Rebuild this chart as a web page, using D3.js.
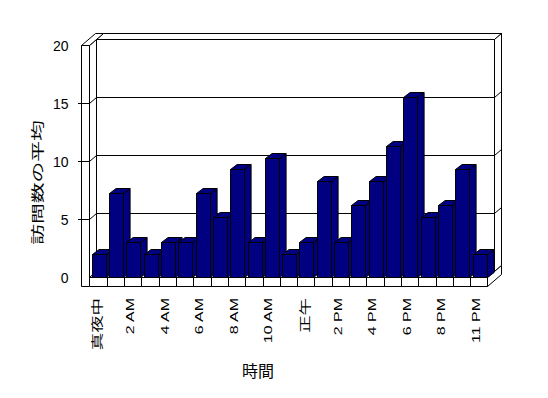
<!DOCTYPE html>
<html>
<head>
<meta charset="utf-8">
<script src="https://cdn.jsdelivr.net/npm/d3@7"></script>
<style>
  body { margin: 0; background: #fff; }
  svg { display: block; }
  text { fill: #000; }
</style>
</head>
<body>
<div id="chart"></div>
<script>
// hours shown on the category axis (only every second one gets a label)
var categories = ['真夜中', '1 AM', '2 AM', '3 AM', '4 AM', '5 AM', '6 AM', '7 AM', '8 AM', '9 AM',
  '10 AM', '11 AM', '正午', '1 PM', '2 PM', '3 PM', '4 PM', '5 PM', '6 PM', '7 PM', '8 PM', '10 PM', '11 PM'];
// average visits per hour
var values = [2, 7.2, 3, 2, 3, 3, 7.2, 5.15, 9.3, 3, 10.3, 2, 3, 8.25, 3, 6.2, 8.25, 11.3, 15.5, 5.15, 6.2, 9.3, 2];
var yTicks = [0, 5, 10, 15, 20];
var yTitle = '訪問数の平均';
var xTitle = '時間';

var width = 548, height = 398;
var X0 = 89.5, X1 = 487.5;       // front edge of floor
var D = { x: 7, y: -6 };         // depth of plot / wall thickness
var B = { x: 6.6, y: -5 };       // depth of one bar
var wallW = 8, floorH = 9;
var navy = '#000080';

var x = d3.scaleBand().domain(categories).range([X0, X1]);
var y = d3.scaleLinear().domain([0, 20]).range([277.5, 45.5]);

var svg = d3.select('#chart').append('svg')
  .attr('width', width).attr('height', height);

function poly(g, pts, fill) {
  return g.append('polygon')
    .attr('points', pts.map(function(p) { return p[0] + ',' + p[1]; }).join(' '))
    .attr('fill', fill || '#fff')
    .attr('stroke', '#000')
    .attr('stroke-width', 1)
    .attr('stroke-linejoin', 'round');
}

function line(g, x1, y1, x2, y2) {
  g.append('line')
    .attr('x1', x1).attr('y1', y1).attr('x2', x2).attr('y2', y2)
    .attr('stroke', '#000').attr('stroke-width', 1);
}

var walls = svg.append('g');
var yTop = y(20), yBot = y(0);

// back wall: top face, right side face, inner face
poly(walls, [[X0 + D.x, yTop + D.y], [X1 + D.x, yTop + D.y], [X1 + 2 * D.x, yTop + 2 * D.y], [X0 + 2 * D.x, yTop + 2 * D.y]]);
poly(walls, [[X1 + D.x, yTop + D.y], [X1 + 2 * D.x, yTop + 2 * D.y], [X1 + 2 * D.x, yBot + 2 * D.y], [X1 + D.x, yBot + D.y]]);
poly(walls, [[X0 + D.x, yTop + D.y], [X1 + D.x, yTop + D.y], [X1 + D.x, yBot + D.y], [X0 + D.x, yBot + D.y]]);

// gridlines on back wall + little marks on its side
yTicks.forEach(function(t) {
  if (t === 0 || t === 20) return;
  var yy = y(t) + D.y;
  line(walls, X0 + D.x, yy, X1 + D.x, yy);
  line(walls, X1 + D.x, yy, X1 + 2 * D.x, yy + D.y);
});

// left wall: inner face, top face, front face
poly(walls, [[X0, yTop], [X0 + D.x, yTop + D.y], [X0 + D.x, yBot + D.y], [X0, yBot]]);
poly(walls, [[X0 - wallW, yTop], [X0, yTop], [X0 + 2 * D.x, yTop + 2 * D.y], [X0 - wallW + 2 * D.x, yTop + 2 * D.y]]);
poly(walls, [[X0 - wallW, yTop], [X0, yTop], [X0, yBot + floorH], [X0 - wallW, yBot + floorH]]);

yTicks.forEach(function(t) {
  if (t === 0 || t === 20) return;
  line(walls, X0 - wallW - 3.5, y(t), X0, y(t));
  line(walls, X0, y(t), X0 + D.x, y(t) + D.y);
});

// floor: top face, right side, front face with category dividers
poly(walls, [[X0, yBot], [X1, yBot], [X1 + D.x, yBot + D.y], [X0 + D.x, yBot + D.y]]);
poly(walls, [[X1, yBot], [X1 + 2 * D.x, yBot + 2 * D.y], [X1 + 2 * D.x, yBot + floorH + 2 * D.y], [X1, yBot + floorH]]);
poly(walls, [[X0, yBot], [X1, yBot], [X1, yBot + floorH], [X0, yBot + floorH]]);
categories.forEach(function(c, i) {
  if (i === 0) return;
  var cx = Math.round(x(c)) + 0.5;
  line(walls, cx, yBot, cx, yBot + floorH);
});

// bars, drawn left to right so each hides the side of the previous one
var bars = svg.append('g');
var bw = x.bandwidth() * 0.82, boff = x.bandwidth() * 0.135;
categories.forEach(function(c, i) {
  var bx = Math.round(x(c) + boff) + 0.5, top = Math.round(y(values[i]) - 0.5) + 0.5, bot = y(0);
  var w = Math.round(bw);
  var g = bars.append('g');
  poly(g, [[bx + w, top], [bx + w + B.x, top + B.y], [bx + w + B.x, bot + B.y], [bx + w, bot]], navy);
  poly(g, [[bx, top], [bx + w, top], [bx + w + B.x, top + B.y], [bx + B.x, top + B.y]], navy);
  poly(g, [[bx, top], [bx + w, top], [bx + w, bot], [bx, bot]], navy);
});

// y tick labels
svg.append('g').selectAll('text').data(yTicks).enter().append('text')
  .attr('x', 68.5)
  .attr('y', function(d) { return y(d) + 5; })
  .attr('text-anchor', 'end')
  .style('font', '14px "Liberation Sans", Arial, sans-serif')
  .text(function(d) { return d; });

// category labels, rotated and stretched like the original
var cjk = /[\u3000-\u9fff]/;
svg.append('g').selectAll('text')
  .data(categories.filter(function(c, i) { return i % 2 === 0; }))
  .enter().append('text')
  .attr('text-anchor', 'end')
  .attr('transform', function(d) {
    var cx = x(d) + x.bandwidth() / 2 + (cjk.test(d) ? 4.2 : 1.2);
    return 'translate(' + cx + ',298) rotate(-90) scale(1.45,1)';
  })
  .style('font-family', function(d) { return cjk.test(d) ? '"Noto Sans CJK JP"' : '"Liberation Sans", Arial, sans-serif'; })
  .style('font-size', function(d) { return cjk.test(d) ? '12px' : '11px'; })
  .text(function(d) { return d; });

// axis titles
svg.append('text')
  .attr('text-anchor', 'middle')
  .attr('transform', 'translate(41.6,182.5) rotate(-90) scale(1.6,1)')
  .style('font', '13px "Noto Sans CJK JP"')
  .text(yTitle);

svg.append('text')
  .attr('x', 258).attr('y', 377)
  .attr('text-anchor', 'middle')
  .style('font', '16px "Noto Sans CJK JP"')
  .text(xTitle);
</script>
</body>
</html>
